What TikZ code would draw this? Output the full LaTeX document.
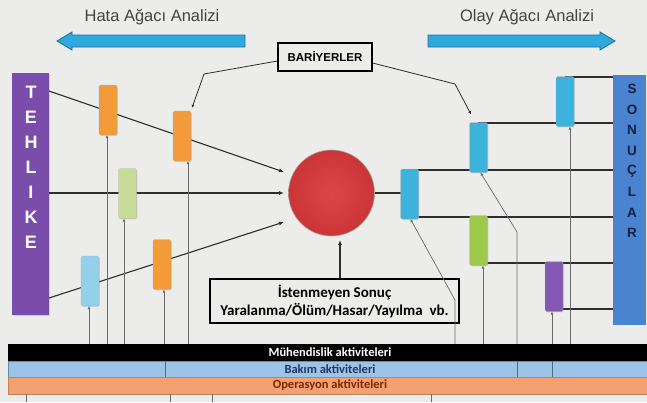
\documentclass[tikz,border=0pt]{standalone}
\usepackage{fontspec}
\setmainfont{Liberation Sans}
\newfontfamily\calib{Carlito}
\usetikzlibrary{arrows.meta,shadows}

\definecolor{bgc}{HTML}{ECECEA}
\definecolor{arrowfill}{HTML}{2EA8DF}
\definecolor{arrowedge}{HTML}{1F6F98}
\definecolor{headtext}{HTML}{444444}
\definecolor{hazard}{HTML}{7A4DAA}
\definecolor{result}{HTML}{4A83CF}
\definecolor{resulttext}{HTML}{14213D}
\definecolor{orangeb}{HTML}{F39A3A}
\definecolor{greenl}{HTML}{C7DC96}
\definecolor{greend}{HTML}{9CC94B}
\definecolor{bluel}{HTML}{93D0EA}
\definecolor{cyanb}{HTML}{3DB3DC}
\definecolor{purpleb}{HTML}{8358B2}
\definecolor{eventin}{HTML}{DC4647}
\definecolor{eventout}{HTML}{CB3537}
\definecolor{maint}{HTML}{9DC3E6}
\definecolor{mainttext}{HTML}{1F3864}
\definecolor{oper}{HTML}{F4A070}
\definecolor{opertext}{HTML}{7A2A00}
\definecolor{wire}{HTML}{2E2E2E}
\definecolor{thin}{HTML}{6A6A6A}

\tikzset{
  barrier/.style={minimum width=18pt, minimum height=50pt, inner sep=0pt,
    rounded corners=1.5pt, draw=white!70!black, line width=0.3pt,
    drop shadow={opacity=0.25, shadow xshift=0.8pt, shadow yshift=-0.8pt}},
  wireline/.style={draw=wire, line width=1.1pt},
  pointer/.style={draw=wire, line width=1.1pt, -{Latex[length=5pt,width=4pt]}},
  feed/.style={draw=thin, line width=0.7pt, -{Latex[length=3pt,width=3pt]}},
  plain/.style={draw=thin, line width=0.7pt},
  bigarrow/.style={fill=arrowfill, draw=arrowedge, line width=0.8pt, line join=miter},
  headline/.style={text=headtext, font=\fontsize{16.5}{18}\selectfont},
  hazardletter/.style={text=white, font=\bfseries\fontsize{18}{18}\selectfont, inner sep=0pt},
  resultletter/.style={text=resulttext, font=\bfseries\fontsize{13.5}{14}\selectfont, inner sep=0pt},
  labelbox/.style={draw=black, line width=1.1pt, fill=bgc, inner sep=0pt},
  bandtext/.style={font=\calib\bfseries\fontsize{12.5}{13}\selectfont, inner sep=0pt}
}

\begin{document}
\begin{tikzpicture}[x=1pt,y=-1pt]
\fill[bgc] (0,0) rectangle (647,402);
\useasboundingbox (0,0) rectangle (647,402);

% direction headings and arrows
\node[headline] (fta) at (152,17) {Hata Ağacı Analizi};
\node[headline] (eta) at (527,17) {Olay Ağacı Analizi};
\draw[bigarrow] (57,41) -- (72,32) -- (72,35) -- (245,35) -- (245,47) -- (72,47) -- (72,50) -- cycle;
\draw[bigarrow] (615,41) -- (600,32) -- (600,35) -- (428,35) -- (428,47) -- (600,47) -- (600,50) -- cycle;

% hazard and consequence columns
\node[fill=hazard, minimum width=37pt, minimum height=242pt, inner sep=0pt,
  drop shadow={opacity=0.25, shadow xshift=1pt, shadow yshift=-1pt}] (haz) at (30.5,194) {};
\foreach \ch [count=\i from 0] in {T,E,H,L,I,K,E}
  \node[hazardletter] (hz\i) at (31,92+25*\i) {\ch};
\node[fill=result, minimum width=33pt, minimum height=250pt, inner sep=0pt] (res) at (629.5,200) {};
\foreach \ch [count=\i from 0] in {S,O,N,U,Ç,L,A,R}
  \node[resultletter] (rs\i) at (632,89+20.6*\i) {\ch};

% top event
\node[circle, minimum size=86pt, inner sep=0pt, draw=white!65!black, line width=0.6pt,
  inner color=eventin, outer color=eventout] (ev) at (331.5,193) {};

% hazard paths towards the top event
\coordinate (h1) at (49,91);   \coordinate (e1) at (284,172);
\coordinate (h2) at (49,193);  \coordinate (e2) at (284,193);
\coordinate (h3) at (49,298);  \coordinate (e3) at (284,222);
\draw[pointer] (h1) -- (e1);
\draw[pointer] (h2) -- (e2);
\draw[pointer] (h3) -- (e3);

% consequence paths
\coordinate (f0) at (375,193);
\coordinate (r1) at (613,77);  \coordinate (r2) at (613,123);
\coordinate (r3) at (613,170); \coordinate (r4) at (613,217);
\coordinate (r5) at (613,263); \coordinate (r6) at (613,309);
\coordinate (g1) at (565,77);  \coordinate (g2) at (478,123);
\coordinate (g3) at (409,170); \coordinate (g4) at (409,217);
\coordinate (g5) at (478,263); \coordinate (g6) at (554,309);
\draw[wireline] (f0) -- (409,193);
\foreach \k in {1,...,6} \draw[wireline] (g\k) -- (r\k);

% barriers
\node[barrier, fill=orangeb] (bA) at (108,110) {};
\node[barrier, fill=orangeb] (bB) at (182,136) {};
\node[barrier, fill=greenl]  (bC) at (127.5,193.5) {};
\node[barrier, fill=bluel]   (bD) at (90,281) {};
\node[barrier, fill=orangeb] (bE) at (162,264.5) {};
\node[barrier, fill=cyanb]   (bF) at (409.5,194) {};
\node[barrier, fill=cyanb]   (bG) at (478.5,147.5) {};
\node[barrier, fill=greend]  (bH) at (478.5,240.5) {};
\node[barrier, fill=cyanb]   (bI) at (565,101.5) {};
\node[barrier, fill=purpleb] (bJ) at (554,286.5) {};

% barrier label
\node[labelbox, minimum width=94pt, minimum height=28pt, font=\bfseries\fontsize{11.5}{13}\selectfont] (bar) at (325,57) {BARİYERLER};
\coordinate (bl) at (204,74);
\coordinate (br) at (455,84);
\draw[feed, draw=wire, line width=0.8pt] (bar.west |- 0,61) -- (bl) -- ([yshift=3pt]bB.north -| 192,0);
\draw[feed, draw=wire, line width=0.8pt] (bar.east |- 0,63) -- (br) -- ([yshift=8pt]bG.north -| 471,0);

% undesired outcome label
\node[labelbox, minimum width=249pt, minimum height=44pt, align=center,
  font=\calib\bfseries\fontsize{15}{18}\selectfont] (out) at (334.5,301) {İstenmeyen Sonuç\\Yaralanma/Ölüm/Hasar/Yayılma\ \ vb.};
\draw[pointer] (out.north -| 340,0) -- (340,240);

% activity feeds from the bottom
\foreach \x/\b in {89/bD,107/bA,124/bC,164/bE,188/bB,483/bH,552/bJ,570/bI}{
  \coordinate (v\b) at (\x,345);
  \draw[feed] (v\b) -- (v\b |- \b.south);
}
\coordinate (vF) at (455,345); \coordinate (kF) at (455,300);
\draw[feed] (vF) -- (kF) -- ([xshift=1pt]bF.south);
\coordinate (vG) at (517,345); \coordinate (kG) at (517,232);
\draw[feed] (vG) -- (kG) -- ([xshift=2pt]bG.south);

% activity bands
\node[fill=black, minimum width=639pt, minimum height=17pt, inner sep=0pt, anchor=north west] (eng) at (8,344) {};
\node[fill=maint, draw=maint!70!black, line width=0.4pt, minimum width=639pt, minimum height=16pt, inner sep=0pt, anchor=north west] (mnt) at (8,361) {};
\node[fill=oper, draw=oper!80!black, line width=0.4pt, minimum width=639pt, minimum height=17pt, inner sep=0pt, anchor=north west] (ops) at (8,377) {};
\node[bandtext, text=white] (engt) at (330,352.5) {Mühendislik aktiviteleri};
\node[bandtext, text=mainttext] (mntt) at (330,369) {Bakım aktiviteleri};
\node[bandtext, text=opertext] (opst) at (330,385.5) {Operasyon aktiviteleri};
\foreach \x in {165,517,552} \draw[draw=maint!55!black, line width=0.5pt] (\x,361) -- (\x,377);
\foreach \x in {26,170,212,431} \draw[plain] (\x,394) -- (\x,402);

\end{tikzpicture}
\end{document}
